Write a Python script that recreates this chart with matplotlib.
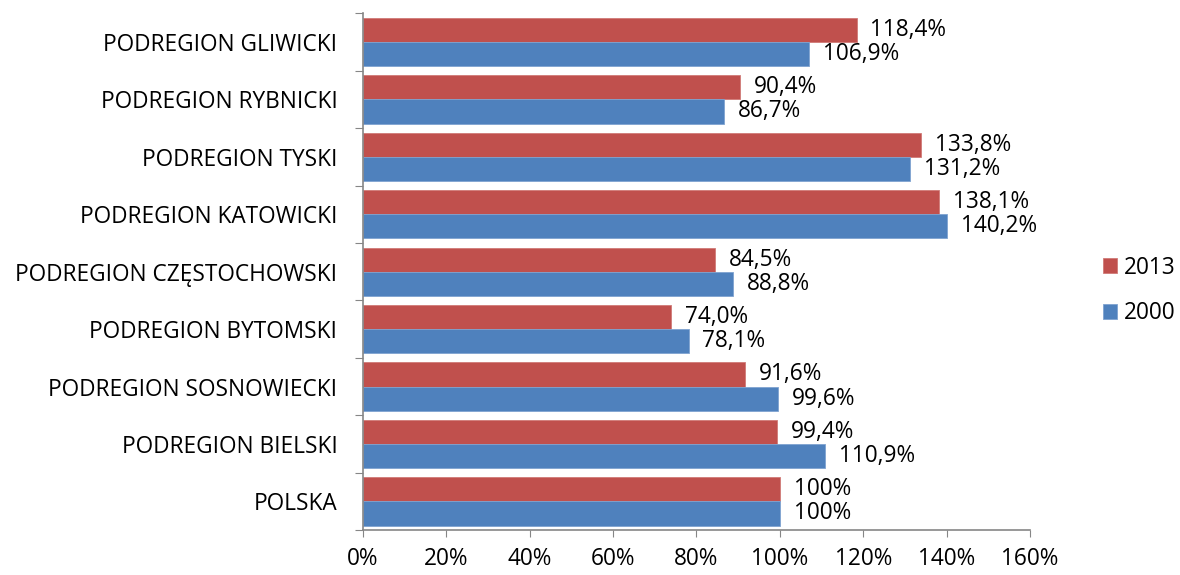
import numpy as np
import matplotlib.pyplot as plt
from matplotlib.ticker import FixedLocator, PercentFormatter

plt.rcParams['font.family'] = ['Open Sans', 'DejaVu Sans']

# Data (top to bottom as in the chart)
regions = [
    "PODREGION GLIWICKI",
    "PODREGION RYBNICKI",
    "PODREGION TYSKI",
    "PODREGION KATOWICKI",
    "PODREGION CZĘSTOCHOWSKI",
    "PODREGION BYTOMSKI",
    "PODREGION SOSNOWIECKI",
    "PODREGION BIELSKI",
    "POLSKA",
]
vals_2013 = [118.4, 90.4, 133.8, 138.1, 84.5, 74.0, 91.6, 99.4, 100.0]
vals_2000 = [106.9, 86.7, 131.2, 140.2, 88.8, 78.1, 99.6, 110.9, 100.0]
labels_2013 = ["118,4%", "90,4%", "133,8%", "138,1%", "84,5%", "74,0%", "91,6%", "99,4%", "100%"]
labels_2000 = ["106,9%", "86,7%", "131,2%", "140,2%", "88,8%", "78,1%", "99,6%", "110,9%", "100%"]

red = '#C0504D'
blue = '#4F81BD'
axis_gray = '#868686'
fs = 16.3

fig = plt.figure(figsize=(11.8, 5.75), dpi=100)
ax = fig.add_axes([0.3076, 0.078, 0.5653, 0.899])

n = len(regions)
y = np.arange(n)[::-1]
h = 0.42

b13 = ax.barh(y + h / 2, vals_2013, height=h, color=red, edgecolor='#D07A77', linewidth=0.6, label='2013')
b00 = ax.barh(y - h / 2, vals_2000, height=h, color=blue, edgecolor='#7FA3D0', linewidth=0.6, label='2000')

for bars, labs in ((b13, labels_2013), (b00, labels_2000)):
    for rect, lab in zip(bars, labs):
        ax.annotate(lab, (rect.get_width(), rect.get_y() + rect.get_height() / 2),
                    xytext=(10, 0), textcoords='offset points', va='center', ha='left',
                    fontsize=fs, color='black')

ax.set_xlim(0, 160)
ax.set_ylim(-0.5, n - 0.5)
ax.set_xticks(np.arange(0, 161, 20))
ax.xaxis.set_major_formatter(PercentFormatter(decimals=0))
ax.tick_params(axis='x', length=5, color=axis_gray, labelsize=fs, pad=7)

# y ticks at category boundaries, labels centred on categories
ax.yaxis.set_major_locator(FixedLocator(np.arange(-0.5, n, 1.0)))
ax.yaxis.set_minor_locator(FixedLocator(y))
ax.set_yticklabels([])
ax.set_yticklabels(regions, minor=True)
ax.tick_params(axis='y', which='major', length=6, color=axis_gray)
ax.tick_params(axis='y', which='minor', length=0, labelsize=fs, pad=18.5)

for s in ('top', 'right'):
    ax.spines[s].set_visible(False)
for s in ('left', 'bottom'):
    ax.spines[s].set_color(axis_gray)
    ax.spines[s].set_linewidth(1.2)

ax.legend(loc='center left', bbox_to_anchor=(1103 / 1180, 1 - 290.5 / 575),
          bbox_transform=fig.transFigure, frameon=False, borderpad=0, borderaxespad=0,
          fontsize=fs, handlelength=0.62, handleheight=0.62, labelspacing=0.95,
          handletextpad=0.3)

fig.savefig('out.png', dpi=100)
